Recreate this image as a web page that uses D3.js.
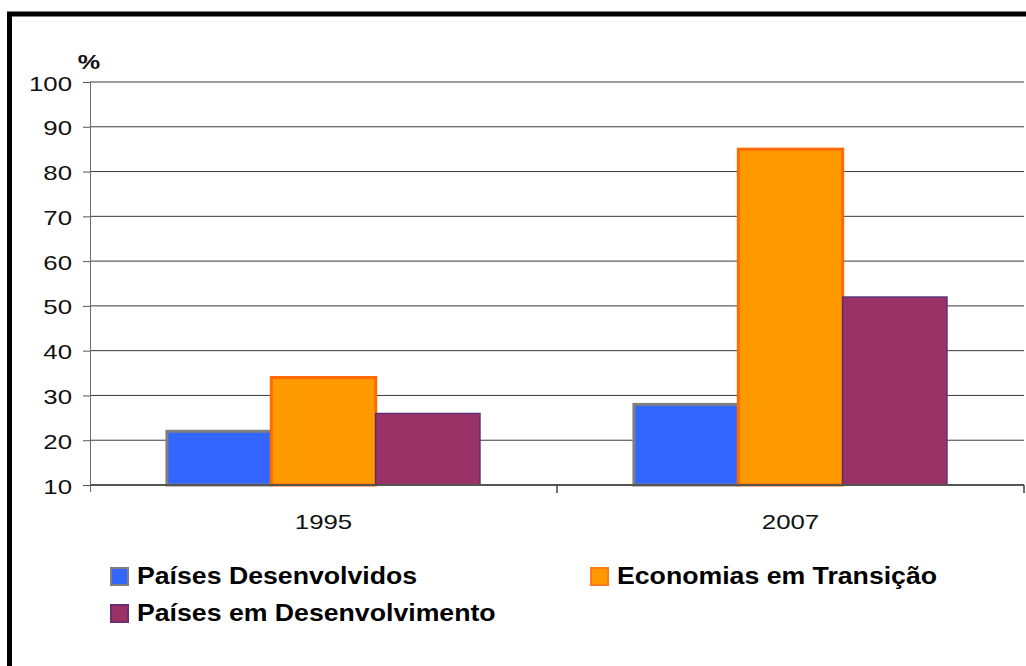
<!DOCTYPE html>
<html>
<head>
<meta charset="utf-8">
<script src="https://cdn.jsdelivr.net/npm/d3@7"></script>
<style>
  html, body { margin: 0; padding: 0; background: #fff; }
  svg { display: block; }
  text { font-family: "Liberation Sans", Arial, sans-serif; }
</style>
</head>
<body>
<svg id="chart" width="1026" height="666"></svg>
<script>
// Share (%) by group of countries, 1995 vs 2007
const years = ["1995", "2007"];
const seriesNames = ["Países Desenvolvidos", "Economias em Transição", "Países em Desenvolvimento"];
const desenvolvidos = [22, 28];
const transicao = [34, 85];
const emDesenvolvimento = [26, 52];
const yTicks = [10, 20, 30, 40, 50, 60, 70, 80, 90, 100];

const seriesValues = [desenvolvidos, transicao, emDesenvolvimento];
const fills = ["#3366ff", "#ff9900", "#993366"];
const strokes = ["#7f7f7f", "#ff6a00", "#4d2a78"];
const strokeW = [3, 3, 1.2];

const svg = d3.select("#chart");
svg.append("rect").attr("width", 1026).attr("height", 666).attr("fill", "#fff");

// frame (left and top edges only)
svg.append("path")
  .attr("d", "M9.5,666 V14 H1026")
  .attr("fill", "none").attr("stroke", "#000").attr("stroke-width", 5);

const x0 = d3.scaleBand().domain(years).range([90, 1024]).padding(0);
const x1 = d3.scaleBand().domain(d3.range(seriesNames.length))
  .range([0, x0.bandwidth()]).paddingInner(0).paddingOuter(0.737);
const y = d3.scaleLinear().domain([10, 100]).range([485, 82]);

const numScale = 1.29;

// horizontal gridlines
svg.append("g").selectAll("line").data(yTicks.filter(d => d > 10)).join("line")
  .attr("x1", 90).attr("x2", 1024)
  .attr("y1", d => y(d)).attr("y2", d => y(d))
  .attr("stroke", "#3a3a3a").attr("stroke-width", 1);

// y axis
const yAxis = svg.append("g").attr("transform", "translate(90,0)")
  .call(d3.axisLeft(y).tickValues(yTicks).tickSize(7).tickPadding(0));
yAxis.select(".domain").remove();
yAxis.selectAll(".tick line").attr("stroke", "#555");
yAxis.selectAll(".tick text")
  .attr("x", null).attr("dy", null)
  .attr("transform", "translate(-18,8) scale(" + numScale + ",1)")
  .attr("font-size", 20).attr("fill", "#111").attr("text-anchor", "end")
  .attr("font-family", "Liberation Sans, Arial, sans-serif");
svg.append("line").attr("x1", 90.5).attr("x2", 90.5).attr("y1", 82).attr("y2", 492)
  .attr("stroke", "#6a6a6a").attr("stroke-width", 1);

// "%" unit label
svg.append("text")
  .attr("transform", "translate(89,69) scale(1.2,1)")
  .attr("text-anchor", "middle").attr("font-size", 21).attr("font-weight", "bold")
  .attr("fill", "#111").text("%");

// bars
const groups = svg.append("g").selectAll("g").data(years).join("g")
  .attr("transform", d => "translate(" + x0(d) + ",0)");
groups.selectAll("rect")
  .data((yr, yi) => seriesValues.map((vals, si) => ({ si, v: vals[yi] })))
  .join("rect")
  .attr("x", d => x1(d.si))
  .attr("width", x1.bandwidth())
  .attr("y", d => y(d.v))
  .attr("height", d => y(10) - y(d.v))
  .attr("fill", d => fills[d.si])
  .attr("stroke", d => strokes[d.si])
  .attr("stroke-width", d => strokeW[d.si]);

// x axis
const xAxis = svg.append("g").attr("transform", "translate(0,485)");
xAxis.append("line").attr("x1", 90).attr("x2", 1024).attr("y1", 0).attr("y2", 0)
  .attr("stroke", "#555").attr("stroke-width", 2);
xAxis.selectAll("line.sep").data([x0("2007"), 1024]).join("line").attr("class", "sep")
  .attr("x1", d => d).attr("x2", d => d).attr("y1", 0).attr("y2", 8)
  .attr("stroke", "#444").attr("stroke-width", 1.5);
xAxis.selectAll("text").data(years).join("text")
  .attr("transform", d => "translate(" + (x0(d) + x0.bandwidth() / 2) + ",44) scale(" + numScale + ",1)")
  .attr("text-anchor", "middle").attr("font-size", 20).attr("fill", "#111")
  .text(d => d);

// legend
const legendPos = [[110, 567], [590, 567], [110, 604]];
const legend = svg.append("g").selectAll("g").data(seriesNames).join("g")
  .attr("transform", (d, i) => "translate(" + legendPos[i][0] + "," + legendPos[i][1] + ")");
legend.append("rect")
  .attr("x", 1).attr("y", 1).attr("width", 17).attr("height", 17)
  .attr("fill", (d, i) => fills[i])
  .attr("stroke", (d, i) => i === 0 ? "#7f7f7f" : i === 1 ? "#ff7a1a" : "#6d2e6e")
  .attr("stroke-width", 2);
legend.append("text")
  .attr("transform", "translate(27,17) scale(1.16,1)")
  .attr("font-size", 23).attr("font-weight", "bold").attr("fill", "#000")
  .text(d => d);
</script>
</body>
</html>
